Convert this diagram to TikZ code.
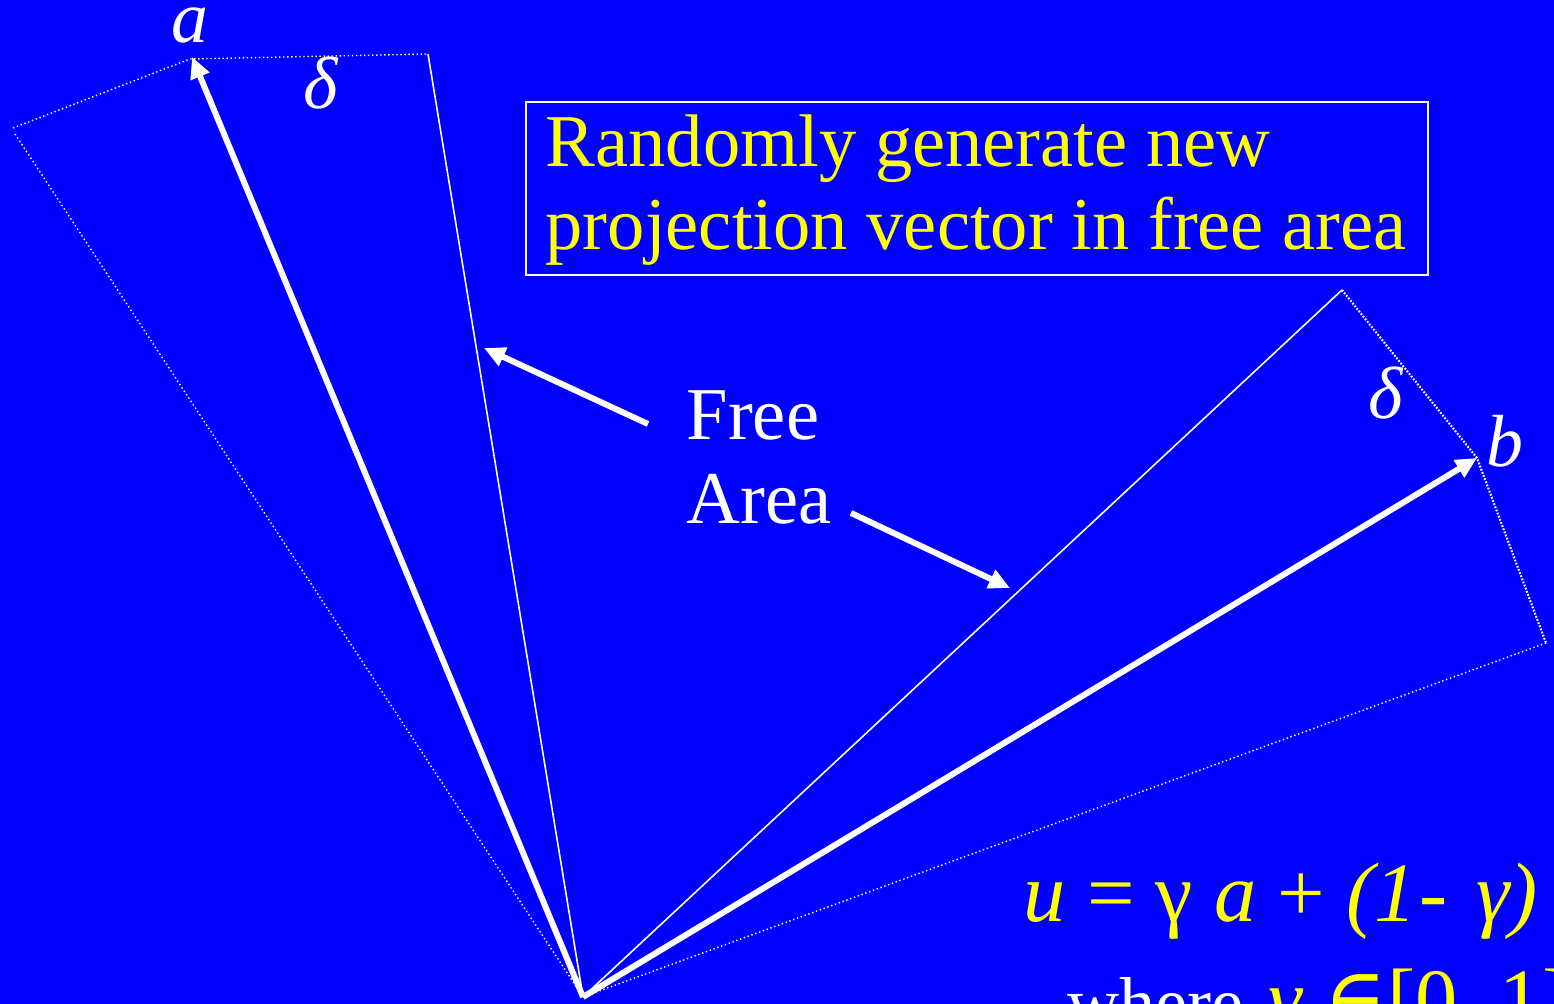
\documentclass[tikz,border=0pt]{standalone}
\usepackage{fontspec}
\setmainfont{Liberation Serif}
\newfontfamily\symfont{DejaVu Serif}
\usetikzlibrary{arrows.meta}
\definecolor{bg}{RGB}{0,0,255}
\definecolor{yel}{RGB}{255,255,0}
\tikzset{
  arrowtip/.style={-{Triangle[length=6pt,width=5.5pt]}},
  thickarrow/.style={white, line width=1.7pt, arrowtip},
  thinline/.style={white, line width=0.45pt},
  dotfine/.style={white, line width=0.4pt, dash pattern=on 0.4pt off 0.75pt},
  dotbold/.style={white, line width=0.6pt, dash pattern=on 0.5pt off 0.45pt},
  lbl/.style={text=white, inner sep=0pt, anchor=base, font=\fontsize{21}{24}\selectfont\itshape},
  bigtext/.style={inner sep=0pt, anchor=base west, font=\fontsize{21.2}{24}\selectfont},
}
\begin{document}
\begin{tikzpicture}[x=0.01cm, y=-0.01cm]
\fill[bg] (0,0) rectangle (1554,1004);
\useasboundingbox (0,0) rectangle (1554,1004);
\clip (0,0) rectangle (1554,1004);
% key points
\coordinate (O) at (583,997);
\coordinate (A) at (192,57);
\coordinate (B) at (1477,458);
\coordinate (P1) at (13,128);
\coordinate (P1b) at (15,134);
\coordinate (P2) at (190,59);
\coordinate (P3) at (428,54);
\coordinate (Q1) at (1342,290);
\coordinate (Q3) at (1546,643);
% left region
\draw[dotfine] (P1) -- (P2) -- (P3);
\draw[dotfine] (P1b) -- (O);
\draw[thinline] (P3) -- (O);
% right region
\draw[thinline] (O) -- (Q1);
\draw[dotbold] (Q1) -- (B) -- (Q3);
\draw[dotfine] (Q3) -- (O);
% vectors
\draw[thickarrow] (O) -- (A);
\draw[thickarrow] (O) -- (B);
% labels
\node[lbl] (la) at (190,43) {a};
\node[lbl] (ld1) at (321,109) {δ};
\node[lbl] (ld2) at (1386,419) {δ};
\node[lbl] (lb) at (1505,467) {b};
% box
\node[draw=white, line width=0.5pt, anchor=north west, minimum width=902*0.01cm, minimum height=173*0.01cm, inner sep=0pt] (box) at (525,101) {};
\node[bigtext, text=yel] (t1) at (545,167) {Randomly generate new};
\node[bigtext, text=yel] (t2) at (545,250) {projection vector in free area};
% free area
\node[bigtext, text=white] (free) at (686,440) {Free};
\node[bigtext, text=white] (area) at (686,524) {Area};
\coordinate (f1s) at (648,424);
\coordinate (f1e) at (484,348);
\coordinate (f2s) at (851,513);
\coordinate (f2e) at (1010,588);
\draw[thickarrow] (f1s) -- (f1e);
\draw[thickarrow] (f2s) -- (f2e);
% formula
\node[inner sep=0pt, anchor=base west, text=yel, font=\fontsize{24}{26}\selectfont] (form) at (1023,922)
  {\textit{u} = γ \textit{a} + \textit{(1\kern1pt-\kern2pt\ γ)}};
\node[inner sep=0pt, anchor=base west, text=white, font=\fontsize{20.5}{24}\selectfont] (where) at (1067,1028) {where};
\node[inner sep=0pt, anchor=base west, text=yel, font=\fontsize{24}{26}\selectfont] (gam) at (1268,1028)
  {\textit{γ} {\symfont ∈}[0, 1]};
\end{tikzpicture}
\end{document}
